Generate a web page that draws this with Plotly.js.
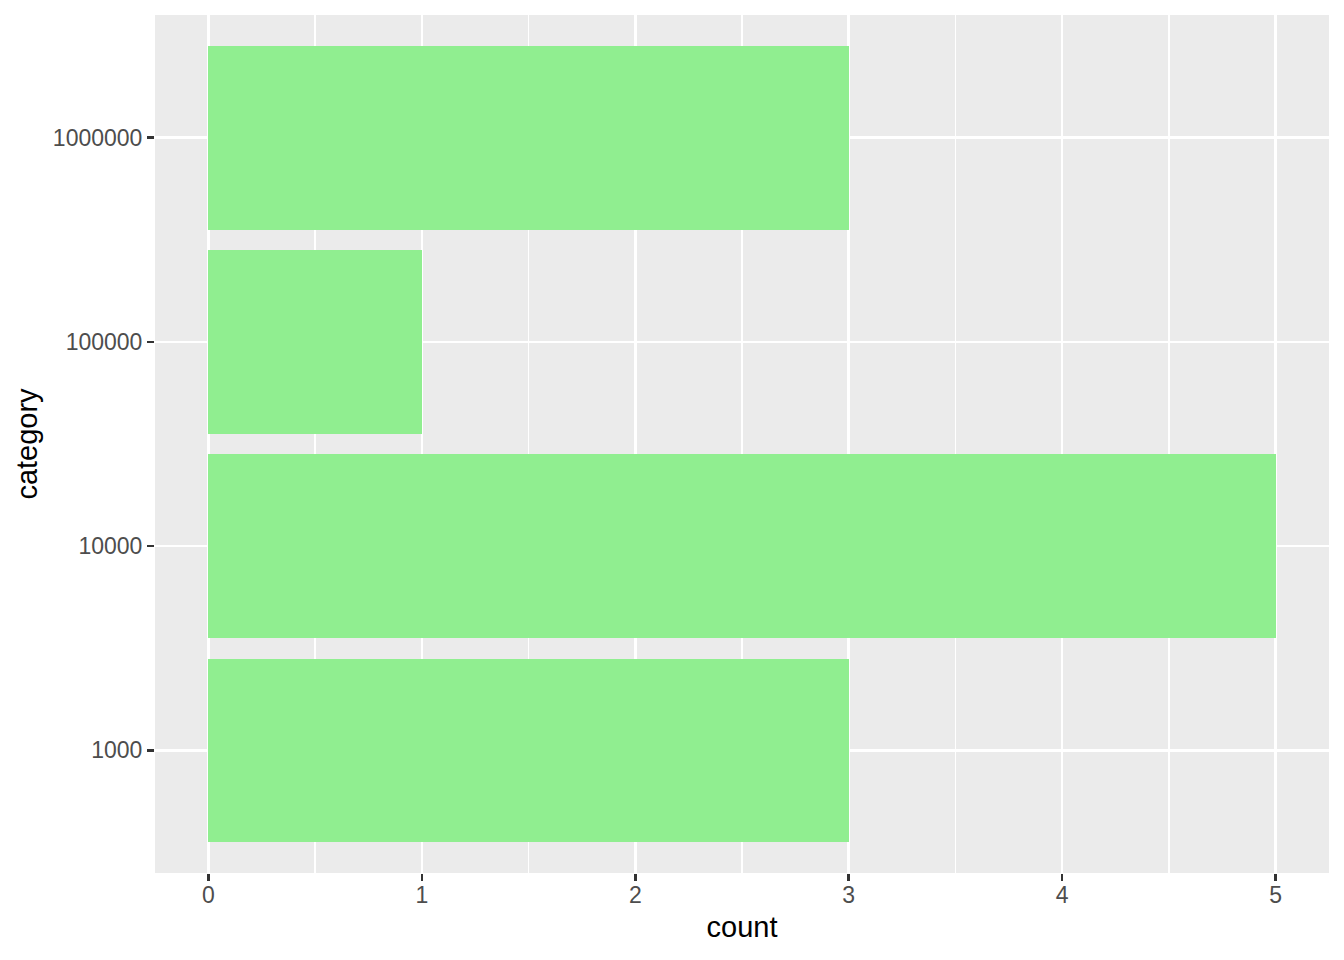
<!DOCTYPE html>
<html>
<head>
<meta charset="utf-8">
<script src="https://cdn.plot.ly/plotly-3.0.1.min.js"></script>
<style>html,body{margin:0;padding:0;background:#fff;}#chart{width:1344px;height:960px;}</style>
</head>
<body>
<div id="chart"></div>
<script>
const categories = ["1000", "10000", "100000", "1000000"];
const counts = [3, 5, 1, 3];
const xTicks = [0, 1, 2, 3, 4, 5];

const trace = {
  type: 'bar',
  orientation: 'h',
  x: counts,
  y: categories,
  width: 0.9,
  marker: {color: '#90EE90', line: {width: 0}},
  hoverinfo: 'x+y'
};

const layout = {
  width: 1344,
  height: 960,
  margin: {l: 155, r: 15, t: 15, b: 87, pad: 0},
  paper_bgcolor: '#FFFFFF',
  plot_bgcolor: '#EBEBEB',
  font: {family: 'Liberation Sans, Arial, sans-serif', size: 23, color: '#4D4D4D'},
  showlegend: false,
  bargap: 0,
  xaxis: {
    range: [-0.25, 5.25],
    tickvals: xTicks,
    ticktext: xTicks.map(String),
    showgrid: true,
    gridcolor: '#FFFFFF',
    gridwidth: 2.5,
    minor: {dtick: 0.5, tick0: 0, showgrid: true, gridcolor: '#FFFFFF', gridwidth: 1.2, ticks: ''},
    zeroline: false,
    showline: false,
    ticks: 'outside',
    ticklen: 7,
    tickwidth: 2.5,
    tickcolor: '#333333',
    ticklabelstandoff: -6,
    tickfont: {size: 23, color: '#4D4D4D'},
    title: {text: 'count', font: {size: 29, color: '#000000'}, standoff: 10},
    fixedrange: true
  },
  yaxis: {
    type: 'category',
    categoryorder: 'array',
    categoryarray: categories,
    range: [-0.6, 3.6],
    showgrid: true,
    gridcolor: '#FFFFFF',
    gridwidth: 2.5,
    zeroline: false,
    showline: false,
    ticks: 'outside',
    ticklen: 7,
    tickwidth: 2.5,
    tickcolor: '#333333',
    tickfont: {size: 23, color: '#4D4D4D'},
    title: {text: 'category', font: {size: 29, color: '#000000'}, standoff: 6},
    fixedrange: true
  }
};

Plotly.newPlot('chart', [trace], layout, {displayModeBar: false, staticPlot: true});
</script>
</body>
</html>
